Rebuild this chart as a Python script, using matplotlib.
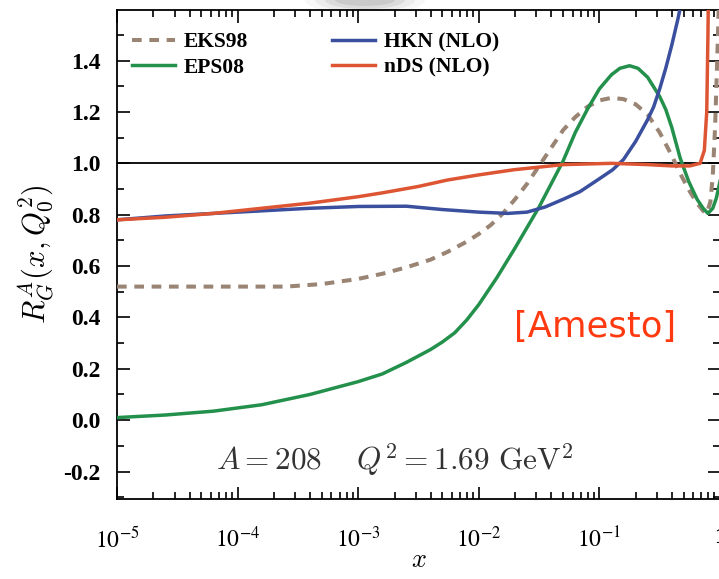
import numpy as np
import matplotlib
matplotlib.use("Agg")
import matplotlib.pyplot as plt
from matplotlib.ticker import FixedLocator, FuncFormatter, LogLocator, MultipleLocator
from matplotlib.patches import Ellipse

plt.rcParams['font.family'] = ['Liberation Serif', 'DejaVu Serif']
plt.rcParams['mathtext.fontset'] = 'stix'

# ---- data (log10 x, ratio) ----
eks98_logx = [-5.0, -4.5, -4.0, -3.6, -3.3, -3.0, -2.8, -2.6, -2.4, -2.26, -2.1, -2.0, -1.9,
              -1.8, -1.7, -1.6, -1.5, -1.4, -1.3, -1.2, -1.1, -1.0, -0.9, -0.8, -0.7, -0.6,
              -0.5, -0.4, -0.33, -0.25, -0.19, -0.14, -0.11, -0.08, -0.06, -0.04, -0.02, -0.005]
eks98_y = [0.52, 0.52, 0.52, 0.52, 0.53, 0.55, 0.57, 0.595, 0.625, 0.655, 0.695, 0.725, 0.76,
           0.805, 0.86, 0.92, 0.99, 1.06, 1.13, 1.18, 1.22, 1.245, 1.255, 1.25, 1.23, 1.19,
           1.12, 1.03, 0.96, 0.89, 0.845, 0.815, 0.805, 0.85, 0.95, 1.15, 1.45, 1.7]

eps08_logx = [-5.0, -4.6, -4.2, -3.8, -3.4, -3.0, -2.8, -2.6, -2.4, -2.3, -2.2, -2.1, -2.0,
              -1.85, -1.7, -1.6, -1.5, -1.4, -1.3, -1.2, -1.1, -1.0, -0.9, -0.83, -0.75,
              -0.68, -0.6, -0.5, -0.45, -0.4, -0.33, -0.26, -0.19, -0.14, -0.1, -0.06,
              -0.03, 0.0]
eps08_y = [0.01, 0.02, 0.035, 0.06, 0.10, 0.15, 0.18, 0.225, 0.275, 0.305, 0.34, 0.39, 0.45,
           0.555, 0.67, 0.75, 0.83, 0.92, 1.01, 1.12, 1.21, 1.29, 1.345, 1.37, 1.38,
           1.37, 1.335, 1.26, 1.21, 1.14, 1.02, 0.93, 0.86, 0.825, 0.805, 0.825,
           0.865, 0.93]

hkn_logx = [-5.0, -4.6, -4.2, -3.8, -3.4, -3.0, -2.6, -2.3, -2.0, -1.76, -1.6, -1.45, -1.3,
            -1.16, -1.0, -0.89, -0.8, -0.7, -0.6, -0.55, -0.5, -0.45, -0.4, -0.35, -0.3]
hkn_y = [0.78, 0.795, 0.805, 0.815, 0.825, 0.832, 0.833, 0.82, 0.81, 0.805, 0.81, 0.83, 0.86,
         0.89, 0.94, 0.975, 1.015, 1.085, 1.17, 1.22, 1.29, 1.37, 1.46, 1.56, 1.67]

nds_logx = [-5.0, -4.6, -4.2, -3.8, -3.4, -3.0, -2.8, -2.5, -2.26, -2.0, -1.71, -1.3, -0.9,
            -0.6, -0.4, -0.25, -0.165, -0.13, -0.11, -0.10, -0.095]
nds_y = [0.78, 0.79, 0.805, 0.825, 0.845, 0.87, 0.885, 0.91, 0.935, 0.955, 0.975, 0.995, 1.0,
         0.995, 0.99, 0.99, 1.0, 1.05, 1.2, 1.5, 1.7]

labels = ["EKS98", "EPS08", "HKN (NLO)", "nDS (NLO)"]
colors = {"EKS98": "#9a8474", "EPS08": "#23904c", "HKN (NLO)": "#3b4f9f", "nDS (NLO)": "#dd5533"}

xticks = [1e-5, 1e-4, 1e-3, 1e-2, 1e-1, 1.0]
xticklabels = [r"$10^{-5}$", r"$10^{-4}$", r"$10^{-3}$", r"$10^{-2}$", r"$10^{-1}$", "1"]

fig = plt.figure(figsize=(7.19, 5.79), dpi=100)
ax = fig.add_axes([117/719, 80/579, (720-117)/719, (569-80)/579])

lw = 2.5
l_eks, = ax.plot(10**np.array(eks98_logx), eks98_y, color=colors["EKS98"], lw=2.9,
                 dashes=(2.4, 1.9), label="EKS98", zorder=3)
l_eps, = ax.plot(10**np.array(eps08_logx), eps08_y, color=colors["EPS08"], lw=lw,
                 label="EPS08", zorder=4)
l_hkn, = ax.plot(10**np.array(hkn_logx), hkn_y, color=colors["HKN (NLO)"], lw=lw,
                 label="HKN (NLO)", zorder=4)
l_nds, = ax.plot(10**np.array(nds_logx), nds_y, color=colors["nDS (NLO)"], lw=lw,
                 label="nDS (NLO)", zorder=4)
ax.axhline(1.0, color="black", lw=1.3, zorder=2)

ax.set_xscale("log")
ax.set_xlim(1e-5, 1.0)
ax.set_ylim(-0.307, 1.597)

ax.xaxis.set_major_locator(FixedLocator(xticks))
ax.set_xticklabels(xticklabels)
ax.xaxis.set_minor_locator(LogLocator(base=10, subs=np.arange(2, 10)))
ax.xaxis.set_minor_formatter(FuncFormatter(lambda v, p: ""))
ax.yaxis.set_major_locator(MultipleLocator(0.2))
ax.yaxis.set_minor_locator(MultipleLocator(0.1))
ax.yaxis.set_major_formatter(FuncFormatter(lambda v, p: f"{v:.1f}".replace("-0.0", "0.0")))

ax.tick_params(which="both", direction="in", top=True, right=True, width=1.2, colors="black")
ax.tick_params(which="major", length=9, labelsize=17, pad=12)
ax.tick_params(axis="x", which="major", pad=20)
ax.tick_params(which="minor", length=5)
for t in ax.get_yticklabels() + ax.get_xticklabels():
    t.set_fontweight("bold")
for s in ax.spines.values():
    s.set_linewidth(1.3)

ax.set_xlabel(r"$x$", fontsize=19, labelpad=-2, math_fontfamily="cm")
ax.set_ylabel(r"$R_G^A(x,Q_0^2)$", fontsize=22, labelpad=6, math_fontfamily="cm")

leg = ax.legend(handles=[l_eks, l_eps, l_hkn, l_nds], ncol=2, loc="upper left",
                frameon=False, fontsize=15.5, handlelength=2.0, handletextpad=0.4,
                columnspacing=3.9, labelspacing=0.25, borderaxespad=0.3,
                bbox_to_anchor=(0.0, 0.985))
for t in leg.get_texts():
    t.set_fontweight("bold")

ax.text(0.46, 0.08, r"$A = 208 \quad\; Q^2 = 1.69\ \mathrm{GeV}^2$",
        transform=ax.transAxes, ha="center", va="center", fontsize=22.5, color="#333333",
        math_fontfamily="cm")

fig.text(595/719, 1 - 327/579, "[Amesto]", color="#ff3a10", fontsize=25.5,
         family=["DejaVu Sans"], ha="center", va="center")

# soft grey smudge above the frame
for i, a in enumerate([0.05, 0.08, 0.12, 0.16]):
    e = Ellipse((365/719, 1.0), (120 - 20*i)/719, (30 - 6*i)/579, transform=fig.transFigure,
                facecolor="#707070", edgecolor="none", alpha=a, zorder=-1)
    fig.patches.append(e)

fig.savefig("out.png", dpi=100)
